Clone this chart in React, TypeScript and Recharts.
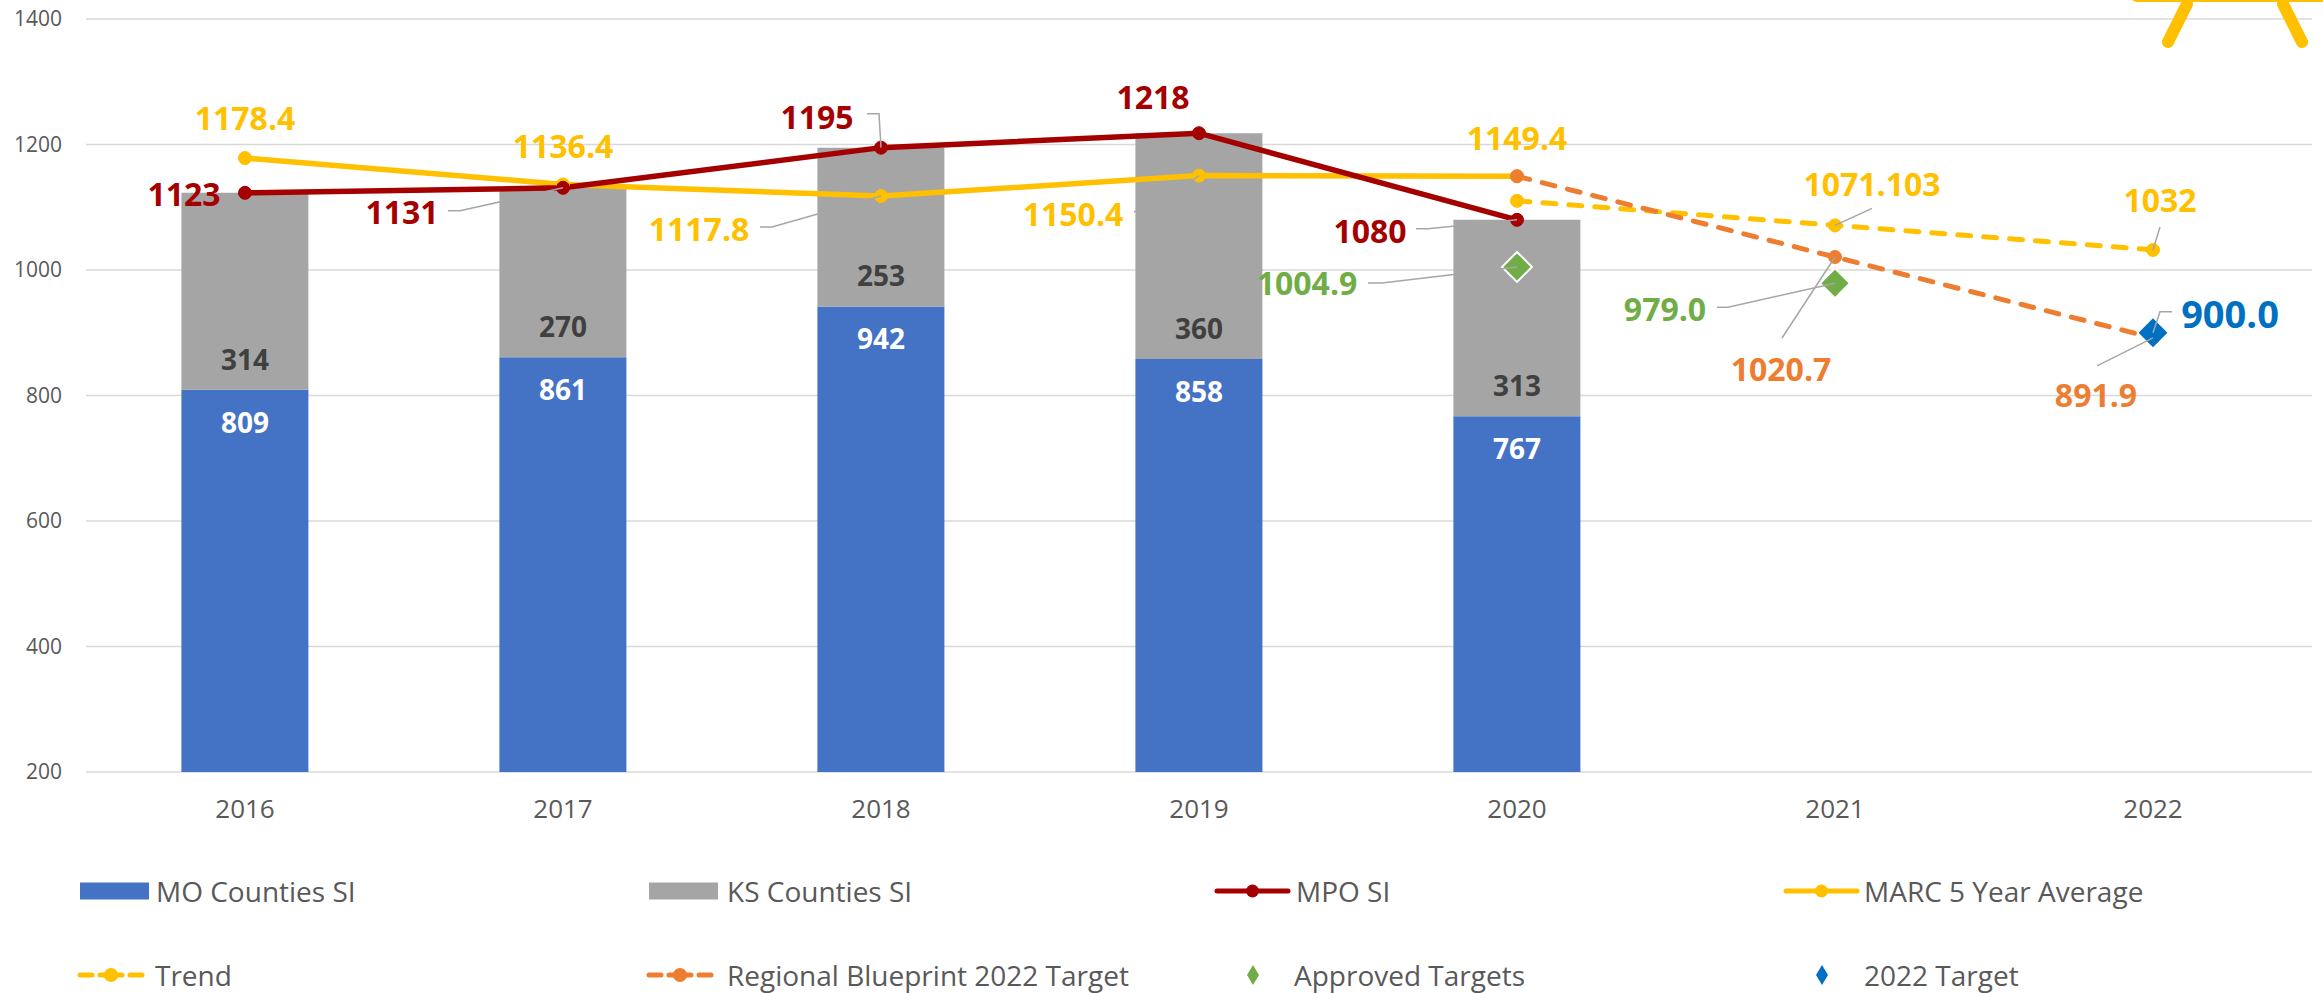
import { ComposedChart, Bar, Line, XAxis, YAxis, CartesianGrid, LabelList } from "recharts";

const years = ["2016", "2017", "2018", "2019", "2020", "2021", "2022"];
const moCounties = [809, 861, 942, 858, 767, null, null];
const ksCounties = [314, 270, 253, 360, 313, null, null];
const mpoSI = [1123, 1131, 1195, 1218, 1080, null, null];
const marcAvg = [1178.4, 1136.4, 1117.8, 1150.4, 1149.4, null, null];
const trend = [null, null, null, null, 1110.2, 1071.103, 1032];
const blueprint = [null, null, null, null, 1149.4, 1020.7, 891.9];
const approved = [null, null, null, null, 1004.9, 979.0, null];
const target2022 = [null, null, null, null, null, null, 900.0];
const yTicks = [200, 400, 600, 800, 1000, 1200, 1400];

const data = years.map((year, i) => ({
  year,
  mo: moCounties[i],
  ks: ksCounties[i],
  mpo: mpoSI[i],
  marc: marcAvg[i],
  trend: trend[i],
  blueprint: blueprint[i],
  approved: approved[i],
  target: target2022[i],
}));

const FONT = "'Open Sans', sans-serif";
const GOLD = "#ffc000";
const RED = "#a50000";
const ORANGE = "#ed7d31";
const GREEN = "#70ad47";
const BLUE = "#0070c0";
const LEADER = "#a6a6a6";

// where each data label sits relative to its point (px), plus leader line bends
type Spot = { dx: number; dy: number; leader?: number[][]; size?: number };

const mpoSpots: Record<number, Spot> = {
  0: { dx: -61, dy: 1 },
  1: { dx: -161, dy: 24, leader: [[-115, 23], [-103, 23]] },
  2: { dx: -64, dy: -31, leader: [[-14, -34], [-2, -34]] },
  3: { dx: -46, dy: -37 },
  4: { dx: -147, dy: 11, leader: [[-101, 9], [-89, 9]] },
};
const marcSpots: Record<number, Spot> = {
  0: { dx: 0, dy: -41 },
  1: { dx: 0, dy: -39 },
  2: { dx: -182, dy: 32, leader: [[-121, 31], [-109, 31]] },
  3: { dx: -126, dy: 38, leader: [[-65, 36], [-53, 36]] },
  4: { dx: 0, dy: -39 },
};
const trendSpots: Record<number, Spot> = {
  5: { dx: 37, dy: -42, leader: [[37, -17]] },
  6: { dx: 7, dy: -50, leader: [[7, -23]] },
};
const blueprintSpots: Record<number, Spot> = {
  5: { dx: -54, dy: 111, leader: [[-53, 81]] },
  6: { dx: -57, dy: 57, leader: [[-56, 28]] },
};
const approvedSpots: Record<number, Spot> = {
  4: { dx: -210, dy: 16, leader: [[-149, 16], [-135, 16]] },
  5: { dx: -170, dy: 25, leader: [[-118, 24], [-107, 24]] },
};
const targetSpots: Record<number, Spot> = {
  6: { dx: 77, dy: -20, leader: [[19, -21], [7, -21]], size: 38 },
};

const plain = (v: number) => String(v);
const oneDec = (v: number) => v.toFixed(1);

const pointLabel =
  (color: string, spots: Record<number, Spot>, fmt: (v: number) => string) =>
  (props: any) => {
    const { index, value } = props;
    const spot = spots[index];
    if (value == null || !spot) return null;
    const vb = props.viewBox || {};
    const px = vb.x ?? props.x;
    const py = vb.y ?? props.y;
    if (px == null || py == null) return null;
    const pts = spot.leader ? [...spot.leader, [0, 0]] : null;
    return (
      <g>
        {pts && (
          <polyline
            points={pts.map(([a, b]) => `${px + a},${py + b}`).join(" ")}
            fill="none"
            stroke={LEADER}
            strokeWidth={1.5}
          />
        )}
        <text
          x={px + spot.dx}
          y={py + spot.dy}
          textAnchor="middle"
          dominantBaseline="central"
          fill={color}
          fontSize={spot.size ?? 32}
          fontWeight={700}
          fontFamily={FONT}
        >
          {fmt(value)}
        </text>
      </g>
    );
  };

const barLabel = (color: string, where: "top" | "bottom") => (props: any) => {
  const { value } = props;
  if (value == null) return null;
  const vb = props.viewBox || props;
  const { x, y, width, height } = vb;
  if (x == null || !height) return null;
  const cy = where === "top" ? y + 32 : y + height - 31;
  return (
    <text
      x={x + width / 2}
      y={cy}
      textAnchor="middle"
      dominantBaseline="central"
      fill={color}
      fontSize={28}
      fontWeight={700}
      fontFamily={FONT}
    >
      {value}
    </text>
  );
};

const circleDot = (color: string) => (props: any) => {
  const { cx, cy, value, index } = props;
  if (value == null || cy == null) return <g key={`d${index}`} />;
  return <circle key={`d${index}`} cx={cx} cy={cy} r={6.5} fill={color} stroke={color} />;
};

const diamondDot = (color: string, half: number, edge: string) => (props: any) => {
  const { cx, cy, value, index } = props;
  if (value == null || cy == null) return <g key={`m${index}`} />;
  return (
    <polygon
      key={`m${index}`}
      points={`${cx},${cy - half} ${cx + half},${cy} ${cx},${cy + half} ${cx - half},${cy}`}
      fill={color}
      stroke={edge}
      strokeWidth={2}
    />
  );
};

type LegendItem = {
  name: string;
  kind: "rect" | "line" | "dash" | "diamond";
  color: string;
  iconX: number;
  textX: number;
  row: number;
};

const legendItems: LegendItem[] = [
  { name: "MO Counties SI", kind: "rect", color: "#4472c4", iconX: 80, textX: 156, row: 0 },
  { name: "KS Counties SI", kind: "rect", color: "#a5a5a5", iconX: 649, textX: 727, row: 0 },
  { name: "MPO SI", kind: "line", color: RED, iconX: 1217, textX: 1296, row: 0 },
  { name: "MARC 5 Year Average", kind: "line", color: GOLD, iconX: 1786, textX: 1864, row: 0 },
  { name: "Trend", kind: "dash", color: GOLD, iconX: 80, textX: 155, row: 1 },
  { name: "Regional Blueprint 2022 Target", kind: "dash", color: ORANGE, iconX: 649, textX: 727, row: 1 },
  { name: "Approved Targets", kind: "diamond", color: GREEN, iconX: 1253, textX: 1294, row: 1 },
  { name: "2022 Target", kind: "diamond", color: BLUE, iconX: 1822, textX: 1864, row: 1 },
];
const rowY = [891, 975];

function LegendIcon({ item }: { item: LegendItem }) {
  const y = rowY[item.row];
  const x = item.iconX;
  if (item.kind === "rect") {
    return <rect x={x} y={y - 8.5} width={69} height={17} fill={item.color} />;
  }
  if (item.kind === "line") {
    return (
      <g>
        <line x1={x} y1={y} x2={x + 71} y2={y} stroke={item.color} strokeWidth={5} strokeLinecap="round" />
        <circle cx={x + 35.5} cy={y} r={6.5} fill={item.color} />
      </g>
    );
  }
  if (item.kind === "dash") {
    return (
      <g>
        <line x1={x} y1={y} x2={x + 12} y2={y} stroke={item.color} strokeWidth={5} strokeLinecap="round" />
        <line x1={x + 50} y1={y} x2={x + 62} y2={y} stroke={item.color} strokeWidth={5} strokeLinecap="round" />
        <line x1={x + 20} y1={y} x2={x + 42} y2={y} stroke={item.color} strokeWidth={5} strokeLinecap="round" />
        <circle cx={x + 31} cy={y} r={7} fill={item.color} />
      </g>
    );
  }
  return (
    <polygon
      points={`${x},${y - 10} ${x + 6},${y} ${x},${y + 10} ${x - 6},${y}`}
      fill={item.color}
    />
  );
}

export default function App() {
  return (
    <div style={{ position: "absolute", left: 0, top: 0, width: 2323, height: 993, background: "#fff" }}>
      <ComposedChart
        width={2323}
        height={993}
        data={data}
        margin={{ top: 19, right: 11, left: 0, bottom: 161 }}
        barCategoryGap="30%"
      >
        <CartesianGrid vertical={false} stroke="#d9d9d9" strokeWidth={1.5} />
        <XAxis
          dataKey="year"
          axisLine={false}
          tickLine={false}
          tickSize={0}
          tickMargin={28}
          height={60}
          tick={{ fill: "#595959", fontSize: 26, fontFamily: FONT }}
        />
        <YAxis
          domain={[200, 1400]}
          allowDataOverflow
          ticks={yTicks}
          axisLine={false}
          tickLine={false}
          tickSize={0}
          tickMargin={24}
          width={86}
          tick={{ fill: "#595959", fontSize: 21, fontFamily: FONT }}
        />
        <Bar dataKey="mo" stackId="si" fill="#4472c4" isAnimationActive={false}>
          <LabelList dataKey="mo" content={barLabel("#ffffff", "top")} />
        </Bar>
        <Bar dataKey="ks" stackId="si" fill="#a5a5a5" isAnimationActive={false}>
          <LabelList dataKey="ks" content={barLabel("#404040", "bottom")} />
        </Bar>
        <Line
          dataKey="marc"
          stroke={GOLD}
          strokeWidth={5.5}
          dot={circleDot(GOLD)}
          activeDot={false}
          isAnimationActive={false}
        >
          <LabelList dataKey="marc" content={pointLabel(GOLD, marcSpots, plain)} />
        </Line>
        <Line
          dataKey="mpo"
          stroke={RED}
          strokeWidth={5.5}
          dot={circleDot(RED)}
          activeDot={false}
          isAnimationActive={false}
        >
          <LabelList dataKey="mpo" content={pointLabel(RED, mpoSpots, plain)} />
        </Line>
        <Line
          dataKey="trend"
          stroke={GOLD}
          strokeWidth={5}
          strokeDasharray="13 13"
          strokeLinecap="round"
          dot={circleDot(GOLD)}
          activeDot={false}
          isAnimationActive={false}
        >
          <LabelList dataKey="trend" content={pointLabel(GOLD, trendSpots, plain)} />
        </Line>
        <Line
          dataKey="blueprint"
          stroke={ORANGE}
          strokeWidth={5}
          strokeDasharray="13 13"
          strokeLinecap="round"
          dot={circleDot(ORANGE)}
          activeDot={false}
          isAnimationActive={false}
        >
          <LabelList dataKey="blueprint" content={pointLabel(ORANGE, blueprintSpots, oneDec)} />
        </Line>
        <Line
          dataKey="approved"
          stroke="none"
          strokeWidth={0}
          dot={diamondDot(GREEN, 15, "#ffffff")}
          activeDot={false}
          isAnimationActive={false}
        >
          <LabelList dataKey="approved" content={pointLabel(GREEN, approvedSpots, oneDec)} />
        </Line>
        <Line
          dataKey="target"
          stroke="none"
          strokeWidth={0}
          dot={diamondDot(BLUE, 13, BLUE)}
          activeDot={false}
          isAnimationActive={false}
        >
          <LabelList dataKey="target" content={pointLabel(BLUE, targetSpots, oneDec)} />
        </Line>
      </ComposedChart>
      <svg
        width={2323}
        height={993}
        style={{ position: "absolute", left: 0, top: 0, pointerEvents: "none" }}
      >
        {legendItems.map((item) => (
          <g key={item.name}>
            <LegendIcon item={item} />
            <text
              x={item.textX}
              y={rowY[item.row]}
              dominantBaseline="central"
              fill="#595959"
              fontSize={28}
              fontFamily={FONT}
            >
              {item.name}
            </text>
          </g>
        ))}
        <rect x={2130} y={-14} width={210} height={16} rx={7} fill={GOLD} />
        <line x1={2187} y1={4} x2={2168} y2={42} stroke={GOLD} strokeWidth={12} strokeLinecap="round" />
        <line x1={2283} y1={4} x2={2302} y2={42} stroke={GOLD} strokeWidth={12} strokeLinecap="round" />
      </svg>
    </div>
  );
}
